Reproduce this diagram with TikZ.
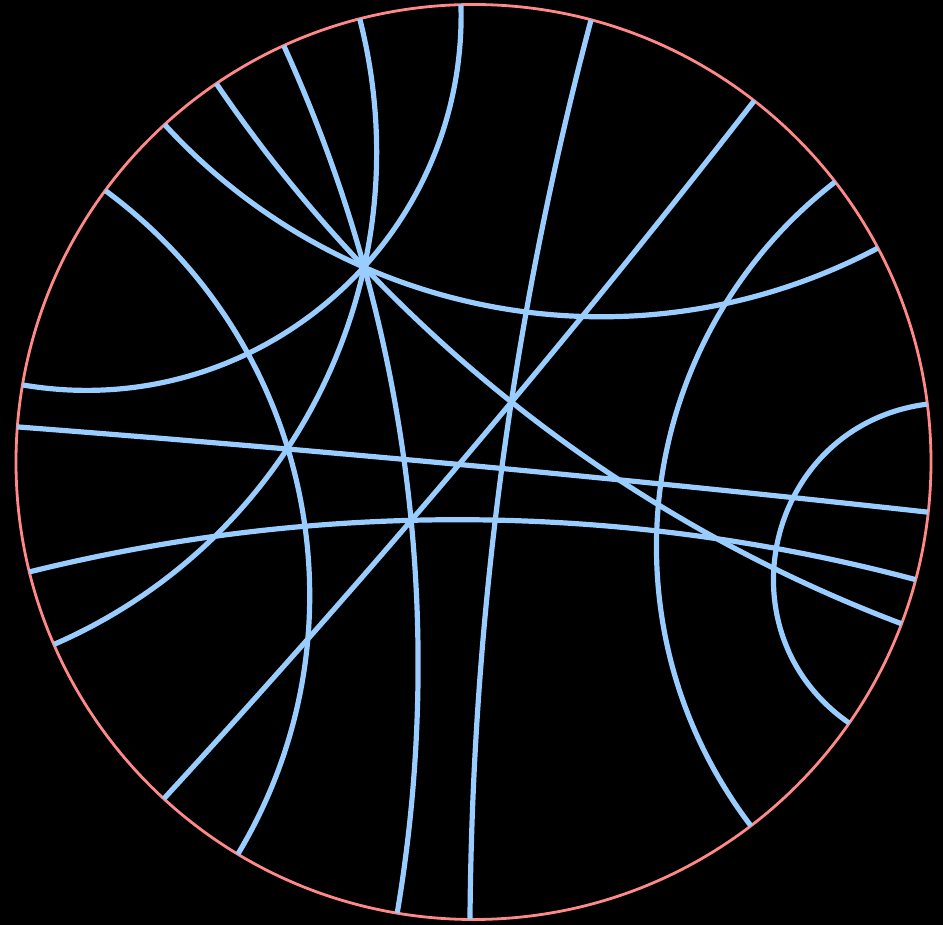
\documentclass[tikz,border=0pt]{standalone}
\definecolor{geoblue}{RGB}{153,204,255}
\definecolor{rim}{RGB}{255,136,136}
\newcommand\Rd{457.5}
\newcommand\geo[2]{%
  \pgfmathsetmacro\ge{90-abs((#2)-(#1))/2}%
  \pgfmathsetmacro\gq{\Rd-4/3*\Rd*tan(\ge/2)/tan(\ge)}%
  \draw[geoline] (#1:\Rd pt) .. controls (#1:\gq pt) and (#2:\gq pt) .. (#2:\Rd pt);%
}
\begin{document}
\begin{tikzpicture}[x=1pt,y=1pt, geoline/.style={geoblue, line width=5.2pt}]
\fill[black] (-473.5,-463) rectangle (469.5,462);
\draw[rim, line width=2.8pt] (0,0) circle[radius=457.5pt];
% geodesics through the hub
\geo{91.57}{170.3}
\geo{27.88}{132.47}
\geo{-20.7}{124.2}
\geo{114.5}{260.4}
\geo{104.4}{203.5}
% others
\geo{52.15}{227.4}
\geo{175.6}{353.7}
\geo{193.9}{345.1}
\geo{143.6}{239.0}
\geo{-90.44}{75.11}
\geo{-52.68}{37.76}
\geo{-34.8}{7.27}
\end{tikzpicture}
\end{document}
